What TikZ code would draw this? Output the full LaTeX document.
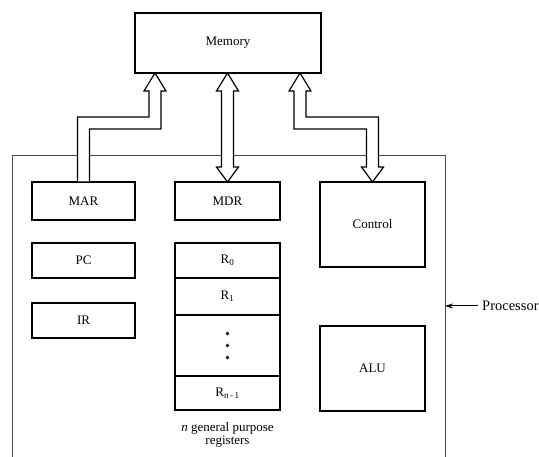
\documentclass[tikz,border=0pt]{standalone}
\usepackage{fontspec}
\setmainfont{Liberation Serif}
\usetikzlibrary{calc,arrows.meta}
\begin{document}
\begin{tikzpicture}[x=1pt,y=-1pt,
  box/.style={draw,line width=2.2pt,rectangle,inner sep=0pt,outer sep=0pt,
    font=\fontsize{13}{15}\selectfont},
  reg/.style={box,minimum width=105pt},
  fat/.style={draw,line width=1.2pt,fill=white,line join=miter},
  procline/.style={draw,line width=1pt,black!70},
  lbl/.style={font=\fontsize{13}{15}\selectfont,inner sep=0pt}]
\useasboundingbox (0,0) rectangle (539,457);
% processor outline (bottom edge off the page)
\draw[procline] (12,470) |- (445,156) -- (445,470);
% nodes
\node[box,minimum width=186pt,minimum height=60pt] (mem) at (228,43) {Memory};
\node[box,minimum width=103pt,minimum height=38pt] (mar) at (83.5,201) {MAR};
\node[box,minimum width=103pt,minimum height=35pt] (pc) at (83.5,260.5) {PC};
\node[box,minimum width=103pt,minimum height=35pt] (ir) at (83.5,320.5) {IR};
\node[reg,minimum height=38pt] (mdr) at (227.5,201) {MDR};
\node[reg,minimum height=35pt] (r0) at (227.5,260.5) {R\textsubscript{0}};
\node[reg,minimum height=37pt] (r1) at (227.5,296.5) {R\textsubscript{1}};
\node[reg,minimum height=61pt] (rdots) at (227.5,345.5) {};
\node[reg,minimum height=34pt] (rn) at (227.5,393) {R\textsubscript{n\,-\,1}};
\node[box,minimum width=105pt,minimum height=85pt] (ctrl) at (372.5,224.5) {Control};
\node[box,minimum width=105pt,minimum height=85pt] (alu) at (372.5,368.5) {ALU};
\node[lbl,align=center] (regtxt) at (227.5,435) {\textit{n} general purpose\\[-2pt]registers};
\foreach \d in {-12,0,12} \fill ($(rdots.center)+(0,\d)$) circle (1.8pt);
% processor label
\node[lbl,anchor=west,inner sep=4pt,font=\fontsize{14.5}{16}\selectfont] (plabel) at (478,306) {Processor};
\coordinate (pedge) at (445,306);
\draw[line width=1pt,-{Stealth[length=8pt,width=5pt]}] (plabel.west) -- (pedge);
% MDR <-> Memory
\coordinate (t2) at (mem.south -| mdr.north);
\coordinate (b2) at (mdr.north);
\path[fat] (t2) -- ++(11,18) -- ++(-5,0) -- ($(b2)+(6,-15)$) -- ++(5,0) -- (b2)
  -- ++(-11,-15) -- ++(5,0) -- ($(t2)+(-6,18)$) -- ++(-5,0) -- cycle;
% MAR -> Memory
\coordinate (t1) at ($(mem.south west)+(20,0)$);
\coordinate (b1) at (mar.north);
\path[fat] (t1) -- ++(11,18) -- ++(-5,0) |- ($(b1)+(6,-53)$) -- ($(b1)+(6,0)$)
  -- ($(b1)+(-6,0)$) |- ($(t1)+(-6,44)$) -- ($(t1)+(-6,18)$) -- ++(-5,0) -- cycle;
% Control <-> Memory
\coordinate (t3) at ($(mem.south east)+(-21,0)$);
\coordinate (b3) at (ctrl.north);
\path[fat] (t3) -- ++(11,18) -- ++(-5,0) |- ($(b3)+(6,-65)$) -- ($(b3)+(6,-15)$)
  -- ++(5,0) -- (b3) -- ++(-11,-15) -- ++(5,0) |- ($(t3)+(-6,56)$)
  -- ($(t3)+(-6,18)$) -- ++(-5,0) -- cycle;
\end{tikzpicture}
\end{document}
